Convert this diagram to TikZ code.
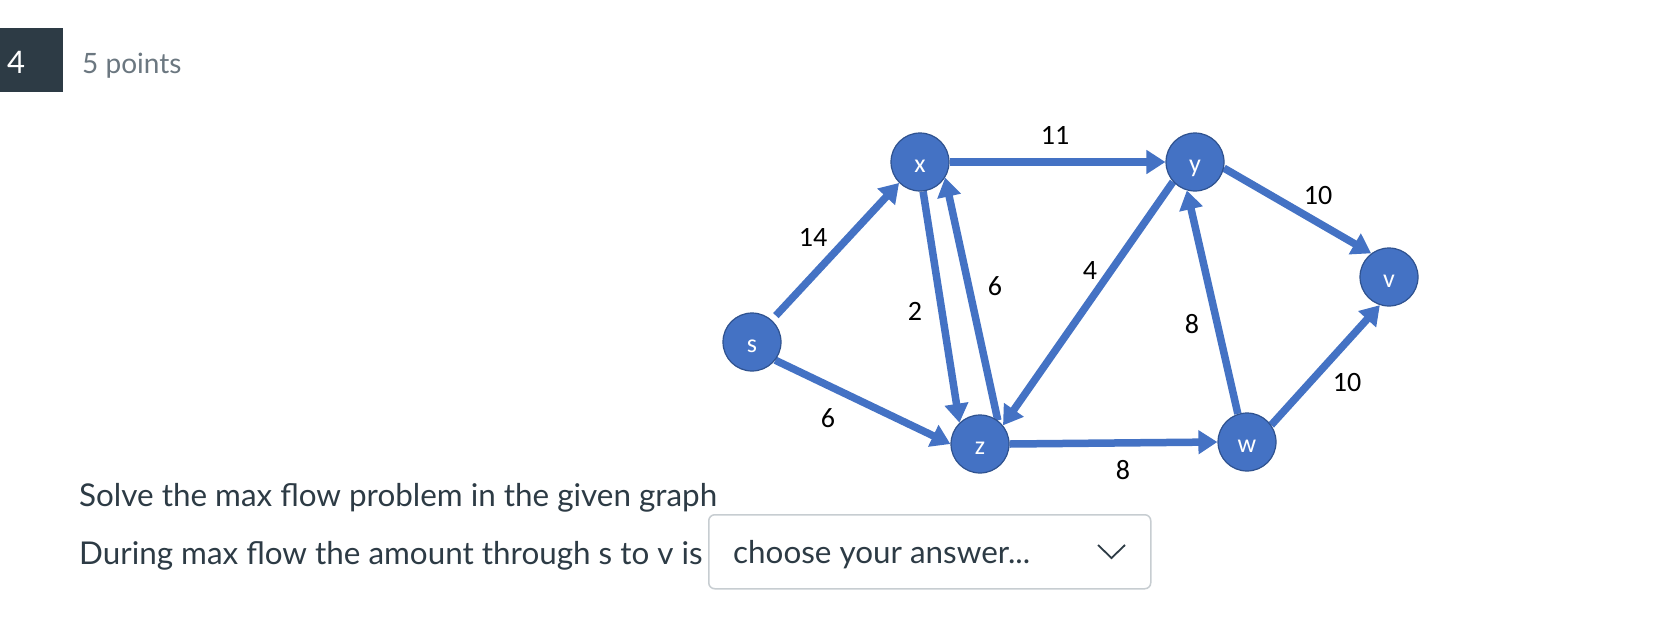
\documentclass[tikz,border=0pt]{standalone}
\usepackage{fontspec}
\setmainfont{Lato}
\newfontfamily\calibri{Carlito}
\usetikzlibrary{arrows.meta,backgrounds}
\definecolor{edgeblue}{HTML}{4472C4}
\definecolor{nodeborder}{HTML}{2F528F}
\definecolor{canvasdark}{HTML}{2D3B45}
\definecolor{canvasgray}{HTML}{6B7780}
\definecolor{boxgray}{HTML}{C7CDD1}
\begin{document}
\begin{tikzpicture}[x=1pt,y=-1pt,
  vert/.style={circle, fill=edgeblue, draw=nodeborder, line width=1.2pt,
    minimum size=58pt, inner sep=0pt, text=white,
    font=\calibri\fontsize{26}{26}\selectfont, text height=21pt, text depth=0pt},
  flow/.style={draw=edgeblue, line width=7.5pt, -{Triangle[length=19pt,width=23pt]}},
  capl/.style={font=\calibri\fontsize{28}{28}\selectfont, text=black, inner sep=0pt},
  qtext/.style={font=\fontsize{31.4}{31.4}\selectfont, text=canvasdark, inner sep=0pt, anchor=base west},
]
\useasboundingbox (0,0) rectangle (1668,630);

% header
\node[fill=canvasdark, minimum width=63pt, minimum height=64pt, inner sep=0pt, anchor=north west] (qbox) at (0,28) {};
\node[font=\fontsize{31}{31}\selectfont, text=white, inner sep=0pt, anchor=base] (qnum) at (16,73) {4};
\node[font=\fontsize{28}{28}\selectfont, text=canvasgray, inner sep=0pt, anchor=base west] (pts) at (82,73) {5 points};

% graph vertices
\node[vert] (s) at (752,342) {s};
\node[vert] (x) at (920,162) {x};
\node[vert] (y) at (1195,162) {y};
\node[vert] (v) at (1389,277) {v};
\node[vert] (z) at (980,444) {z};
\node[vert] (w) at (1247,442) {w};

% edges
\begin{scope}[on background layer]
\fill[white] (0,0) rectangle (1668,630);
\draw[flow, shorten <=6pt] (s.48) -- (x.225);
\draw[flow] (s.-38) -- (z.180);
\draw[flow] (x.0) -- (y.180);
\draw[flow] (y.-12) -- (v.127);
\draw[flow] (x.-84) -- (z.134);
\draw[flow] (z.53) -- (x.-32);
\draw[flow] (y.222) -- (z.39);
\draw[flow] (z.0) -- (w.180);
\draw[flow] (w.108) -- (y.254);
\draw[flow] (w.35) -- (v.252);
\end{scope}

% capacities
\node[capl] (c11) at (1055,135) {11};
\node[capl] (c14) at (813,237) {14};
\node[capl] (c2) at (915,311) {2};
\node[capl] (c6a) at (995,286) {6};
\node[capl] (c4) at (1090,271) {4};
\node[capl] (c8a) at (1192,324) {8};
\node[capl] (c10a) at (1318,196) {10};
\node[capl] (c10b) at (1347,383) {10};
\node[capl] (c6b) at (828,418) {6};
\node[capl] (c8b) at (1123,470) {8};

% question text
\node[qtext] (line1) at (79,506) {Solve the max flow problem in the given graph};
\node[qtext] (line2) at (79,564) {During max flow the amount through s to v is};

% dropdown
\node[draw=boxgray, line width=1.5pt, rounded corners=6pt, minimum width=442pt,
  minimum height=74pt, inner sep=0pt, anchor=north west] (answer) at (708,514) {};
\node[qtext] (choice) at (733,563) {choose your answer...};
\coordinate (chevl) at (1098,545);
\coordinate (chevm) at (1111.5,558);
\coordinate (chevr) at (1125,545);
\draw[canvasdark, line width=1.8pt] (chevl) -- (chevm) -- (chevr);
\end{tikzpicture}
\end{document}
